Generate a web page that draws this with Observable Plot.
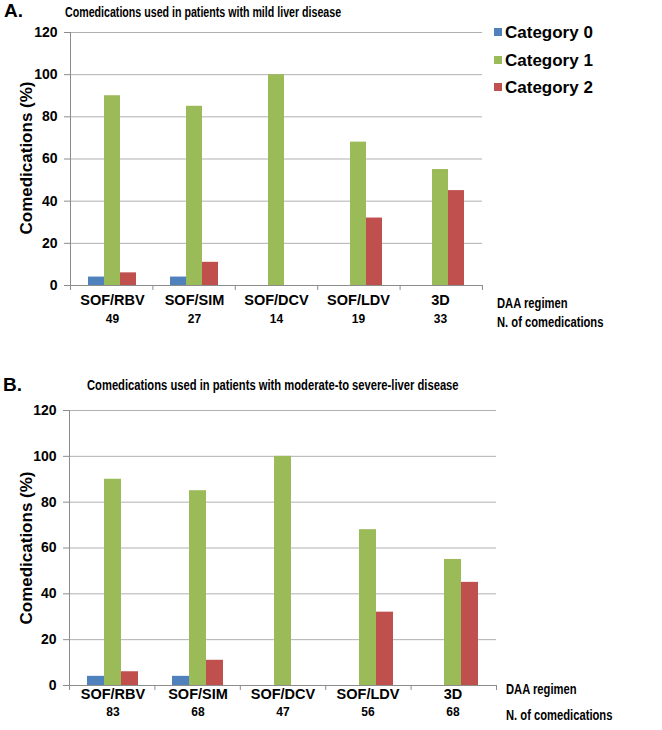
<!DOCTYPE html>
<html><head><meta charset="utf-8">
<script src="https://cdn.jsdelivr.net/npm/d3@7"></script>
<script src="https://cdn.jsdelivr.net/npm/@observablehq/plot@0.6"></script>
<style>
body{margin:0;background:#fff;font-family:"Liberation Sans",Arial,sans-serif;color:#000;}
#wrap{position:relative;width:662px;height:730px;overflow:hidden;background:#fff;}
.abs{position:absolute;white-space:nowrap;line-height:1;font-weight:bold;transform:translateY(-50%);}
.narrow{transform:translateY(-50%) scaleX(0.8);transform-origin:0 50%;}
.narrow2{transform:translateY(-50%) scaleX(0.76);transform-origin:0 50%;}
.svgbox{position:absolute;left:0;}
.sw{position:absolute;width:8px;height:8px;transform:translateY(-50%);}
</style></head><body><div id="wrap"></div>
<script>
const regimens = ["SOF/RBV", "SOF/SIM", "SOF/DCV", "SOF/LDV", "3D"];
const categories = ["Category 0", "Category 1", "Category 2"];
const colors = ["#4F81BD", "#9BBB59", "#C0504D"];
const yTicks = [0, 20, 40, 60, 80, 100, 120];
const boundaries = [0, 1, 2, 3, 4, 5];

const mildCat0 = [4, 4, 0, 0, 0];
const mildCat1 = [90, 85, 100, 68, 55];
const mildCat2 = [6, 11, 0, 32, 45];
const mildCounts = [49, 27, 14, 19, 33];

const modCat0 = [4, 4, 0, 0, 0];
const modCat1 = [90, 85, 100, 68, 55];
const modCat2 = [6, 11, 0, 32, 45];
const modCounts = [83, 68, 47, 56, 68];

const wrap = document.getElementById("wrap");

function addText(txt, x, y, size, cls = "") {
  const d = document.createElement("div");
  d.className = "abs " + cls;
  d.textContent = txt;
  d.style.left = x + "px";
  d.style.top = y + "px";
  d.style.fontSize = size + "px";
  wrap.appendChild(d);
  return d;
}

function panel(o) {
  const rows = [];
  regimens.forEach((r, i) => {
    [o.c0, o.c1, o.c2].forEach((s, j) => rows.push({regimen: r, category: categories[j], value: s[i]}));
  });
  const countRows = regimens.map((r, i) => ({regimen: r, n: o.counts[i]}));
  const common = {
    width: 662, height: o.height,
    marginTop: o.marginTop, marginBottom: o.marginBottom,
    marginLeft: o.marginLeft, marginRight: o.marginRight,
    style: {background: "transparent", overflow: "visible", color: "#000", fontFamily: "'Liberation Sans', Arial, sans-serif"}
  };
  const deco = Plot.plot({
    ...common,
    x: {domain: [0, 5], axis: null},
    y: {domain: [0, 120], axis: null},
    marks: [
      Plot.gridY(yTicks, {stroke: "#b0b0b0", strokeOpacity: 1}),
      Plot.axisY(yTicks, {tickSize: 6, tickPadding: 7, stroke: "#8c8c8c", fill: "#000", fontSize: 14, fontWeight: "bold", label: null}),
      Plot.ruleX([0], {stroke: "#8c8c8c"}),
      Plot.ruleY([0], {stroke: "#8c8c8c"}),
      Plot.axisX(boundaries, {tickSize: 5, tickFormat: () => "", stroke: "#8c8c8c", label: null})
    ]
  });
  const bars = Plot.plot({
    ...common,
    fx: {domain: regimens, padding: 0, label: null},
    x: {domain: categories, paddingInner: 0, paddingOuter: 1.0, axis: null},
    y: {domain: [0, 120], axis: null},
    color: {domain: categories, range: colors},
    marks: [
      Plot.barY(rows, {fx: "regimen", x: "category", y: "value", fill: "category"}),
      Plot.axisFx({anchor: "bottom", tickSize: 0, tickPadding: o.labelPad, fontSize: 14.5, fontWeight: "bold", label: null}),
      Plot.text(countRows, {fx: "regimen", text: "n", frameAnchor: "bottom", dy: o.countDy, fontSize: 12, fontWeight: "bold"})
    ]
  });
  for (const svg of [deco, bars]) {
    const box = document.createElement("div");
    box.className = "svgbox";
    box.style.top = o.top + "px";
    box.appendChild(svg);
    wrap.appendChild(box);
  }
}

// Panel A: plot area x 70..482, y 32..285
panel({top: 0, height: 340, marginTop: 32, marginBottom: 55, marginLeft: 70, marginRight: 180,
  c0: mildCat0, c1: mildCat1, c2: mildCat2, counts: mildCounts, countDy: 37, labelPad: 9});
// Panel B: plot area x 69..496, y 410..685
panel({top: 370, height: 360, marginTop: 40, marginBottom: 45, marginLeft: 69, marginRight: 166,
  c0: modCat0, c1: modCat1, c2: modCat2, counts: modCounts, countDy: 30, labelPad: 3});

// Titles
addText("A.", 4, 10, 19);
addText("Comedications used in patients with mild liver disease", 65, 12, 14, "narrow2");
addText("B.", 3, 384, 19);
addText("Comedications used in patients with moderate-to severe-liver disease", 87, 385, 14, "narrow");

// Y axis titles
for (const cy of [158, 548]) {
  const d = addText("Comedications (%)", 26, cy, 17);
  d.style.transform = "translate(-50%,-50%) rotate(-90deg)";
}

// Side labels
addText("DAA regimen", 497, 303, 14, "narrow");
addText("N. of comedications", 497, 322, 14, "narrow");
addText("DAA regimen", 506, 689, 14, "narrow");
addText("N. of comedications", 506, 715, 14, "narrow");

// Legend
[32, 60, 87].forEach((y, i) => {
  const s = document.createElement("div");
  s.className = "sw";
  s.style.left = "494px";
  s.style.top = y + "px";
  s.style.background = colors[i];
  wrap.appendChild(s);
  addText(categories[i], 505, y, 17);
});
</script></body></html>
